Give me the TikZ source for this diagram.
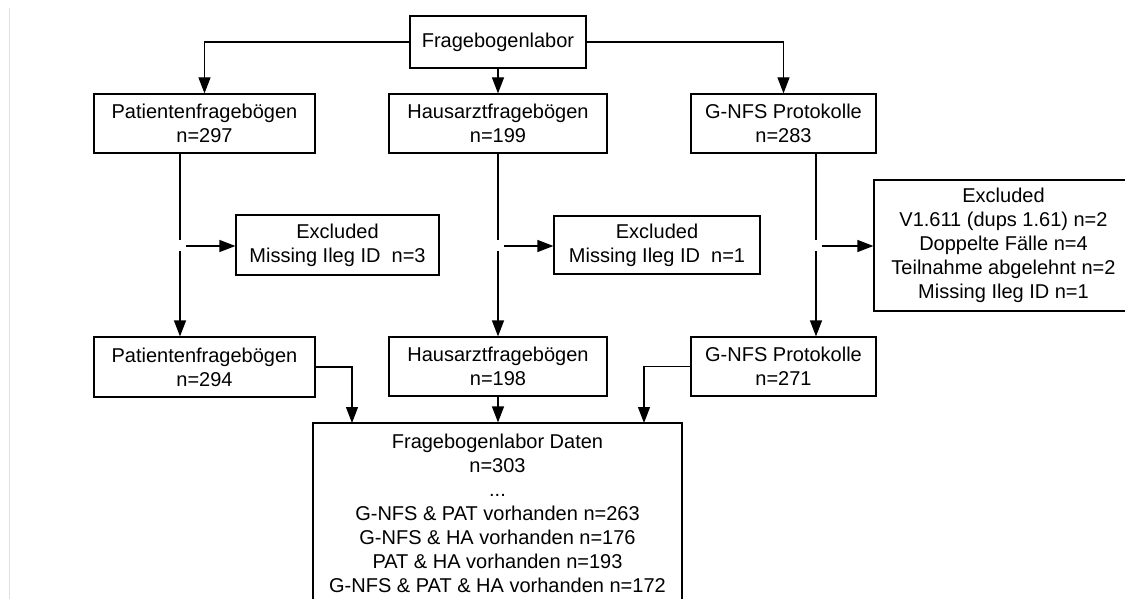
\documentclass[tikz,border=0pt]{standalone}
\usepackage{fontspec}
\setmainfont{Liberation Sans}
\usetikzlibrary{arrows.meta}
\begin{document}
\begin{tikzpicture}[x=1pt,y=-1pt,
  box/.style={draw, line width=1.2pt, inner sep=0pt, align=center,
    font=\fontsize{20}{24}\selectfont},
  link/.style={line width=1.2pt},
  arr/.style={line width=1.2pt, -{Triangle[length=16pt,width=12pt]}}]
\useasboundingbox (0,0) rectangle (1125,599);
\clip (0,0) rectangle (1125,599);
\fill[white] (0,0) rectangle (1125,599);
\draw[black!12, line width=1pt] (9.5,8) -- (9.5,600);

% top
\node[box, minimum width=176pt, minimum height=52pt] (top) at (498,42) {Fragebogenlabor};
% first row
\node[box, minimum width=221pt, minimum height=59pt] (p1) at (204.5,123.5) {Patientenfragebögen\\n=297};
\node[box, minimum width=218pt, minimum height=59pt] (h1) at (498,123.5) {Hausarztfragebögen\\n=199};
\node[box, minimum width=185pt, minimum height=59pt] (g1) at (783.5,123.5) {G-NFS Protokolle\\n=283};
% excluded
\node[box, minimum width=203pt, minimum height=60pt] (e1) at (337.5,245) {Excluded\\Missing Ileg ID~~n=3};
\node[box, minimum width=206pt, minimum height=58pt] (e2) at (657,245) {Excluded\\Missing Ileg ID~~n=1};
\node[box, minimum width=259pt, minimum height=131pt] (e3) at (1003.5,245.5) {Excluded\\V1.611 (dups 1.61) n=2\\Doppelte Fälle n=4\\Teilnahme abgelehnt n=2\\Missing Ileg ID n=1};
% second row
\node[box, minimum width=221pt, minimum height=60pt] (p2) at (204.5,367) {Patientenfragebögen\\n=294};
\node[box, minimum width=218pt, minimum height=59pt] (h2) at (498,366.5) {Hausarztfragebögen\\n=198};
\node[box, minimum width=185pt, minimum height=59pt] (g2) at (783.5,366.5) {G-NFS Protokolle\\n=271};
% data
\node[box, minimum width=369pt, minimum height=181pt] (data) at (497.5,513.5) {Fragebogenlabor Daten\\n=303\\...\\G-NFS \& PAT vorhanden n=263\\G-NFS \& HA vorhanden n=176\\PAT \& HA vorhanden n=193\\G-NFS \& PAT \& HA vorhanden n=172};

% branch points
\coordinate (pj) at (180,246);
\coordinate (hj) at (498,246);
\coordinate (gj) at (816,246);
\coordinate (dp) at (352,423);
\coordinate (dg) at (644,423);

% top connectors
\draw[arr] (top.west) -| (p1.north);
\draw[arr] (top.south) -- (h1.north);
\draw[arr] (top.east) -| (g1.north);

% vertical flows with jumps
\draw[link] (p1.south -| pj) -- ([yshift=6pt]pj);
\draw[arr] ([yshift=-5pt]pj) -- (p2.north -| pj);
\draw[arr] ([xshift=6pt]pj) -- (e1.west |- pj);

\draw[link] (h1.south -| hj) -- ([yshift=6pt]hj);
\draw[arr] ([yshift=-5pt]hj) -- (h2.north -| hj);
\draw[arr] ([xshift=6pt]hj) -- (e2.west |- hj);

\draw[link] (g1.south -| gj) -- ([yshift=6pt]gj);
\draw[arr] ([yshift=-5pt]gj) -- (g2.north -| gj);
\draw[arr] ([xshift=6pt]gj) -- (e3.west |- gj);

% into data
\draw[arr] (p2.east) -| (dp);
\draw[arr] (h2.south) -- (h2.south |- data.north);
\draw[arr] (g2.west) -| (dg);
\end{tikzpicture}
\end{document}
